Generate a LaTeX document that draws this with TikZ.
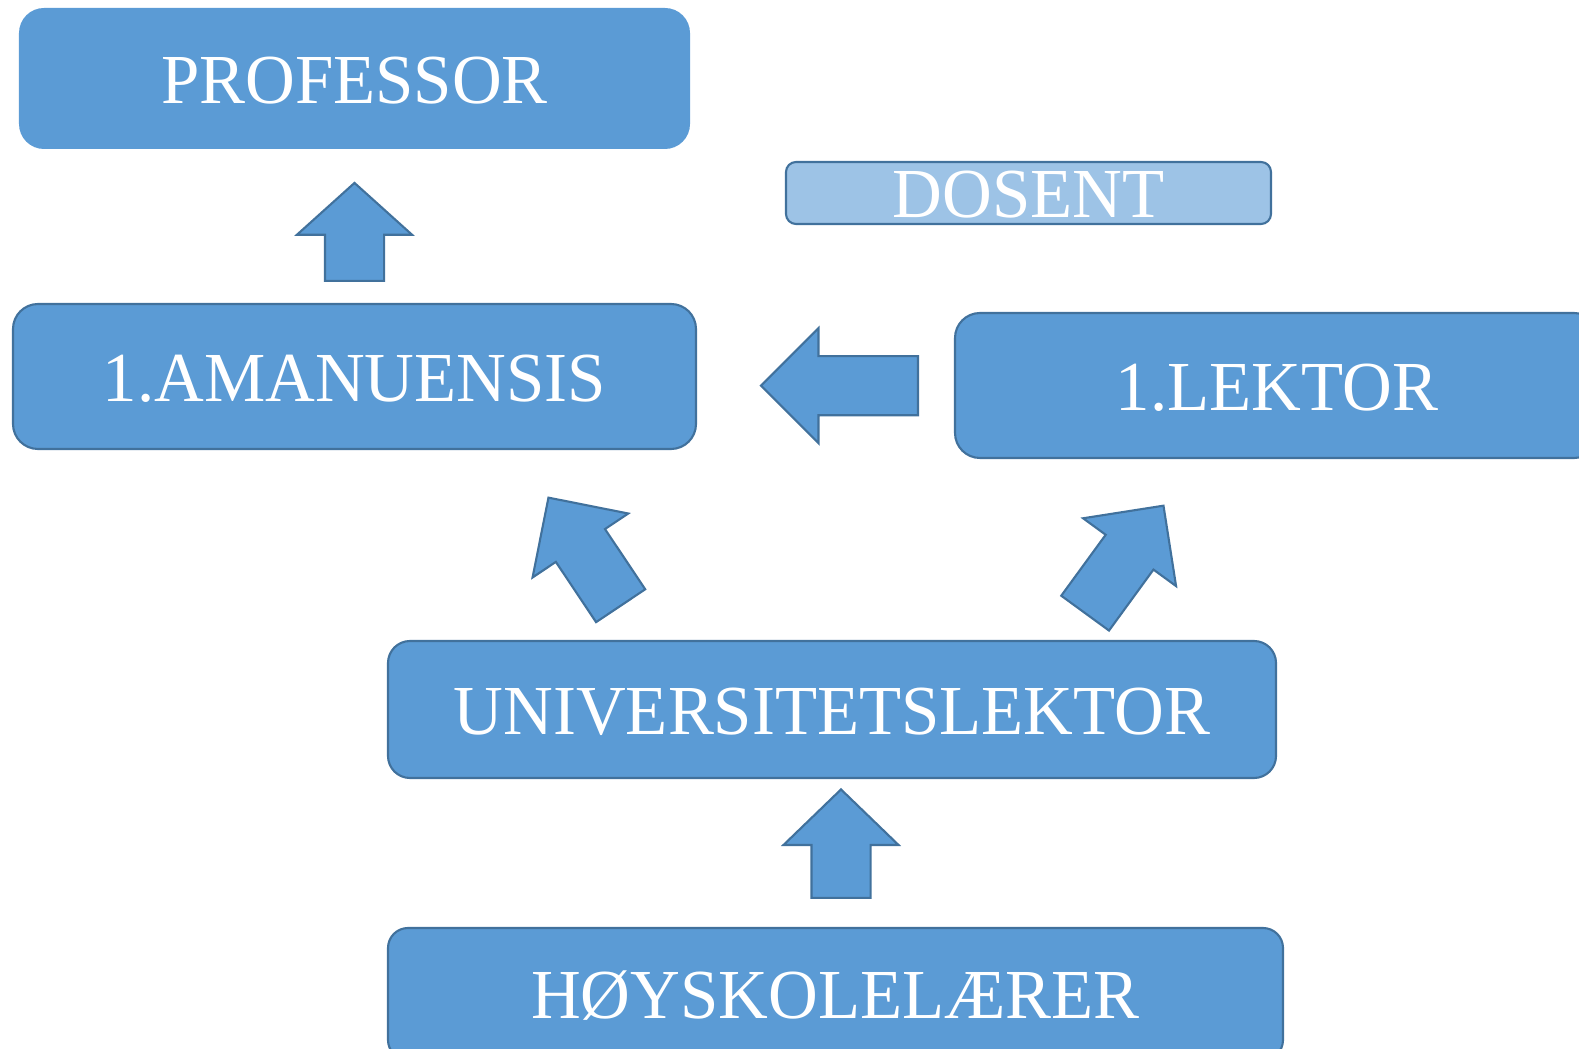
\documentclass[tikz,border=0pt]{standalone}
\usepackage{fontspec}
\setmainfont[FakeStretch=0.98]{Liberation Serif}
\usepackage{tikz}
\usepackage{xcolor}
\usetikzlibrary{positioning}
\usetikzlibrary{shapes.arrows}
\definecolor{boxblue}{HTML}{5B9BD5}
\definecolor{edgeblue}{HTML}{41719C}
\definecolor{paleblue}{HTML}{9DC3E6}
\tikzstyle{rank} = [draw=edgeblue, line width=0.6pt, fill=boxblue, text=white, inner sep=0pt, align=center, font=\fontsize{20}{24}\selectfont, text height=0.5cm, text depth=0pt]

\begin{document}
\begin{tikzpicture}[promo/.style={single arrow, draw=edgeblue, line width=0.6pt, fill=boxblue, inner xsep=0pt, inner ysep=0.285cm, minimum width=1.13cm, single arrow head extend=0.28cm, single arrow tip angle=90, anchor=tail}]
			\useasboundingbox (0,0) rectangle (15.79,-10.49);
			\clip (0,0) rectangle (15.79,-10.49);
			
			\node[rank, draw=none, minimum width=6.71cm, minimum height=1.41cm, rounded corners=0.25cm] at (3.545, -0.785) (professor) {PROFESSOR};
			\node[rank, minimum width=6.83cm, minimum height=1.45cm, rounded corners=0.25cm] at (3.545, -3.765) (amanuensis) {1.AMANUENSIS};
			\node[rank, fill=paleblue, minimum width=4.85cm, minimum height=0.62cm, rounded corners=0.1cm] at (10.285, -1.93) (dosent) {DOSENT};
			\node[rank, minimum width=6.44cm, minimum height=1.45cm, rounded corners=0.25cm] at (12.77, -3.855) (lektor) {1.LEKTOR};
			\node[rank, minimum width=8.88cm, minimum height=1.37cm, rounded corners=0.22cm] at (8.32, -7.095) (univlektor) {UNIVERSITETSLEKTOR};
			\node[rank, minimum width=8.95cm, minimum height=1.32cm, rounded corners=0.2cm] at (8.355, -9.94) (hoyskole) {HØYSKOLELÆRER};
			
			\node[promo, minimum height=0.98cm, single arrow tip angle=96, rotate=90] at (3.545, -2.82) (up1) {};
			\node[promo, minimum height=1.57cm, rotate=180] at (9.19, -3.857) (left1) {};
			\node[promo, minimum height=1.30cm, rotate=123.75] at (6.2125, -6.066) (diag1) {};
			\node[promo, minimum height=1.33cm, rotate=53.9] at (10.845, -6.14) (diag2) {};
			\node[promo, minimum height=1.085cm, single arrow tip angle=92, rotate=90] at (8.41, -8.99) (up2) {};
			
		\end{tikzpicture}
\end{document}
